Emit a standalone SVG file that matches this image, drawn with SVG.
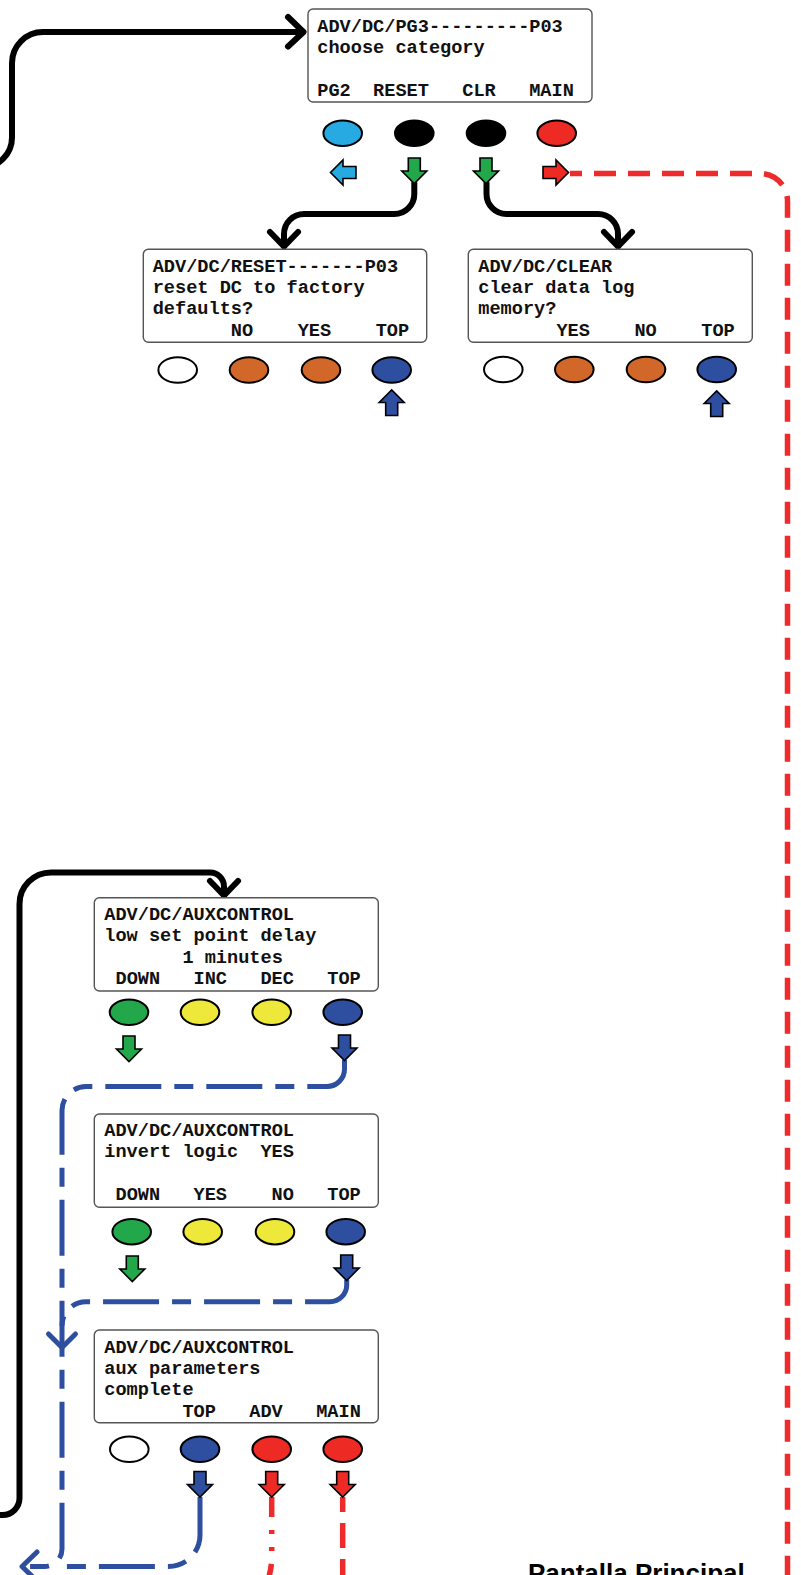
<svg xmlns="http://www.w3.org/2000/svg" xmlns:xlink="http://www.w3.org/1999/xlink" width="801" height="1575" viewBox="0 0 801 1575">
<style>
.box{fill:#fff;stroke:#555;stroke-width:1.4}
.t{font-family:"Liberation Mono","DejaVu Sans Mono",monospace;font-weight:bold;font-size:18.6px;fill:#111}
.b{stroke:#000;stroke-width:2}
.cyan{fill:#27AAE1}.blk{fill:#000}.red{fill:#EE2A24}.wht{fill:#fff}
.org{fill:#D2672A}.dblu{fill:#2E4FA0}.grn{fill:#22A84A}.yel{fill:#EEE83A}
.arr{stroke:#000;stroke-width:1.6;stroke-linejoin:miter}
.kline{fill:none;stroke:#000;stroke-width:6;stroke-linecap:round;stroke-linejoin:round}
.rline{fill:none;stroke:#EE2A2A;stroke-width:5.5}
.bline{fill:none;stroke:#2E4FA0;stroke-width:5;stroke-dasharray:56 13 19 13}
.bsolid{fill:none;stroke:#2E4FA0;stroke-width:5;stroke-linecap:round;stroke-linejoin:round}
.lbl{font-family:"Liberation Sans",Arial,sans-serif;font-weight:bold;font-size:26px;fill:#000}
</style>
<defs>
<path id="ad" d="M-6 0H6V13H12.5L0 25.5L-12.5 13H-6Z"/>
</defs>

<g id="connectors">
  <path class="kline" d="M-18 167.5A30 30 0 0 0 12 137.5V63A31 31 0 0 1 43 32H303"/>
  <path class="kline" d="M288 17L303.5 32L288 46.5"/>
  <path class="kline" d="M414.3 183V194A20 20 0 0 1 394.3 214H304A20 20 0 0 0 284 234V246"/>
  <path class="kline" d="M270 232L284 246.5L298 232"/>
  <path class="kline" d="M486.5 183V194A20 20 0 0 0 506.5 214H598A20 20 0 0 1 618 234V246"/>
  <path class="kline" d="M604 232L618 246.5L632 232"/>
  <path class="kline" d="M-8 1515H2.5A17 17 0 0 0 19.5 1498V904A31.5 31.5 0 0 1 51 872.5H210A14 14 0 0 1 224 886.5V895"/>
  <path class="kline" d="M210 881L224 895.5L238 881"/>
  <path class="rline" style="stroke-dasharray:22 12;stroke-dashoffset:10" d="M570 173.5H760A27.5 27.5 0 0 1 787.5 201V1580"/>
  <path class="rline" style="stroke-dasharray:20 13 4 13 4 13" d="M271.7 1497V1558Q271.7 1568 268 1580"/>
  <path class="rline" style="stroke-dasharray:25 11;stroke-dashoffset:10" d="M342.7 1497V1580"/>
  <path class="bline" d="M344.5 1060V1069A17.5 17.5 0 0 1 327 1086.5H86A24 24 0 0 0 62 1110.5V1549A17.5 17.5 0 0 1 44.5 1566.5H22"/>
  <path class="bline" d="M346.7 1280V1285A16.7 16.7 0 0 1 330 1301.7H86A24 24 0 0 0 62 1325.7"/>
  <path class="bline" d="M200 1497V1535A31.5 31.5 0 0 1 168.5 1566.5H62"/>
  <path class="bsolid" d="M48.5 1334L62 1347.5L75.5 1334"/>
  <path class="bsolid" d="M37 1552L22 1566.5L37 1581"/>
</g>

<g id="node-pg3">
  <rect class="box" x="308" y="9" width="284" height="93" rx="5"/>
  <text class="t" x="317.3" y="31.7">ADV/DC/PG3---------P03</text>
  <text class="t" x="317.3" y="53.1">choose category</text>
  <text class="t" x="317.3" y="96">PG2</text>
  <text class="t" x="373.1" y="96">RESET</text>
  <text class="t" x="462.3" y="96">CLR</text>
  <text class="t" x="529.2" y="96">MAIN</text>
  <ellipse class="b cyan" cx="342.7" cy="133.3" rx="19.3" ry="12.7"/>
  <ellipse class="b blk" cx="414.3" cy="133.3" rx="19.3" ry="12.7"/>
  <ellipse class="b blk" cx="486" cy="133.3" rx="19.3" ry="12.7"/>
  <ellipse class="b red" cx="556.7" cy="133.3" rx="19.3" ry="12.7"/>
  <use href="#ad" class="arr cyan" transform="translate(356 172.5) rotate(90)"/>
  <use href="#ad" class="arr grn" transform="translate(414.3 158)"/>
  <use href="#ad" class="arr grn" transform="translate(486 158)"/>
  <use href="#ad" class="arr red" transform="translate(543 172.5) rotate(-90)"/>
</g>

<g id="node-reset">
  <rect class="box" x="143.3" y="249.3" width="283.4" height="93" rx="5"/>
  <text class="t" x="152.7" y="271.7">ADV/DC/RESET-------P03</text>
  <text class="t" x="152.7" y="293">reset DC to factory</text>
  <text class="t" x="152.7" y="314.3">defaults?</text>
  <text class="t" x="230.8" y="335.7">NO</text>
  <text class="t" x="297.7" y="335.7">YES</text>
  <text class="t" x="375.7" y="335.7">TOP</text>
  <ellipse class="b wht" cx="177.7" cy="370" rx="19.3" ry="12.7"/>
  <ellipse class="b org" cx="249" cy="370" rx="19.3" ry="12.7"/>
  <ellipse class="b org" cx="321" cy="370" rx="19.3" ry="12.7"/>
  <ellipse class="b dblu" cx="391.7" cy="370" rx="19.3" ry="12.7"/>
  <use href="#ad" class="arr dblu" transform="translate(391.7 415.5) rotate(180)"/>
</g>

<g id="node-clear">
  <rect class="box" x="468.3" y="249.3" width="284" height="93" rx="5"/>
  <text class="t" x="478.3" y="271.7">ADV/DC/CLEAR</text>
  <text class="t" x="478.3" y="293">clear data log</text>
  <text class="t" x="478.3" y="314.3">memory?</text>
  <text class="t" x="556.4" y="335.7">YES</text>
  <text class="t" x="634.4" y="335.7">NO</text>
  <text class="t" x="701.3" y="335.7">TOP</text>
  <ellipse class="b wht" cx="503.3" cy="369.5" rx="19.3" ry="12.7"/>
  <ellipse class="b org" cx="574.3" cy="369.5" rx="19.3" ry="12.7"/>
  <ellipse class="b org" cx="646" cy="369.5" rx="19.3" ry="12.7"/>
  <ellipse class="b dblu" cx="716.7" cy="369.5" rx="19.3" ry="12.7"/>
  <use href="#ad" class="arr dblu" transform="translate(716.7 416.5) rotate(180)"/>
</g>

<g id="node-aux-delay">
  <rect class="box" x="94.3" y="897.7" width="284" height="93.3" rx="5"/>
  <text class="t" x="104.3" y="920">ADV/DC/AUXCONTROL</text>
  <text class="t" x="104.3" y="941.3">low set point delay</text>
  <text class="t" x="182.4" y="962.7">1 minutes</text>
  <text class="t" x="115.5" y="984">DOWN</text>
  <text class="t" x="193.5" y="984">INC</text>
  <text class="t" x="260.4" y="984">DEC</text>
  <text class="t" x="327.3" y="984">TOP</text>
  <ellipse class="b grn" cx="129" cy="1012.3" rx="19.3" ry="12.7"/>
  <ellipse class="b yel" cx="200" cy="1012.3" rx="19.3" ry="12.7"/>
  <ellipse class="b yel" cx="271.7" cy="1012.3" rx="19.3" ry="12.7"/>
  <ellipse class="b dblu" cx="342.7" cy="1012.3" rx="19.3" ry="12.7"/>
  <use href="#ad" class="arr grn" transform="translate(129 1036)"/>
  <use href="#ad" class="arr dblu" transform="translate(344.5 1035)"/>
</g>

<g id="node-aux-invert">
  <rect class="box" x="94.3" y="1114" width="284" height="93.3" rx="5"/>
  <text class="t" x="104.3" y="1135.7">ADV/DC/AUXCONTROL</text>
  <text class="t" x="104.3" y="1157">invert logic</text>
  <text class="t" x="260.4" y="1157">YES</text>
  <text class="t" x="115.5" y="1199.7">DOWN</text>
  <text class="t" x="193.5" y="1199.7">YES</text>
  <text class="t" x="271.6" y="1199.7">NO</text>
  <text class="t" x="327.3" y="1199.7">TOP</text>
  <ellipse class="b grn" cx="131.7" cy="1231.7" rx="19.3" ry="12.7"/>
  <ellipse class="b yel" cx="202.7" cy="1231.7" rx="19.3" ry="12.7"/>
  <ellipse class="b yel" cx="275" cy="1231.7" rx="19.3" ry="12.7"/>
  <ellipse class="b dblu" cx="345.7" cy="1231.7" rx="19.3" ry="12.7"/>
  <use href="#ad" class="arr grn" transform="translate(132.3 1256)"/>
  <use href="#ad" class="arr dblu" transform="translate(346.7 1255)"/>
</g>

<g id="node-aux-complete">
  <rect class="box" x="94.3" y="1330" width="284" height="92.7" rx="5"/>
  <text class="t" x="104.3" y="1352.7">ADV/DC/AUXCONTROL</text>
  <text class="t" x="104.3" y="1374">aux parameters</text>
  <text class="t" x="104.3" y="1395.3">complete</text>
  <text class="t" x="182.4" y="1416.7">TOP</text>
  <text class="t" x="249.3" y="1416.7">ADV</text>
  <text class="t" x="316.2" y="1416.7">MAIN</text>
  <ellipse class="b wht" cx="129.3" cy="1449.3" rx="19.3" ry="12.7"/>
  <ellipse class="b dblu" cx="200" cy="1449.3" rx="19.3" ry="12.7"/>
  <ellipse class="b red" cx="271.7" cy="1449.3" rx="19.3" ry="12.7"/>
  <ellipse class="b red" cx="342.7" cy="1449.3" rx="19.3" ry="12.7"/>
  <use href="#ad" class="arr dblu" transform="translate(200 1471.5)"/>
  <use href="#ad" class="arr red" transform="translate(271.7 1471.5)"/>
  <use href="#ad" class="arr red" transform="translate(342.7 1471.5)"/>
</g>

<g id="node-main">
  <text class="lbl" x="528" y="1582">Pantalla Principal</text>
</g>
</svg>
